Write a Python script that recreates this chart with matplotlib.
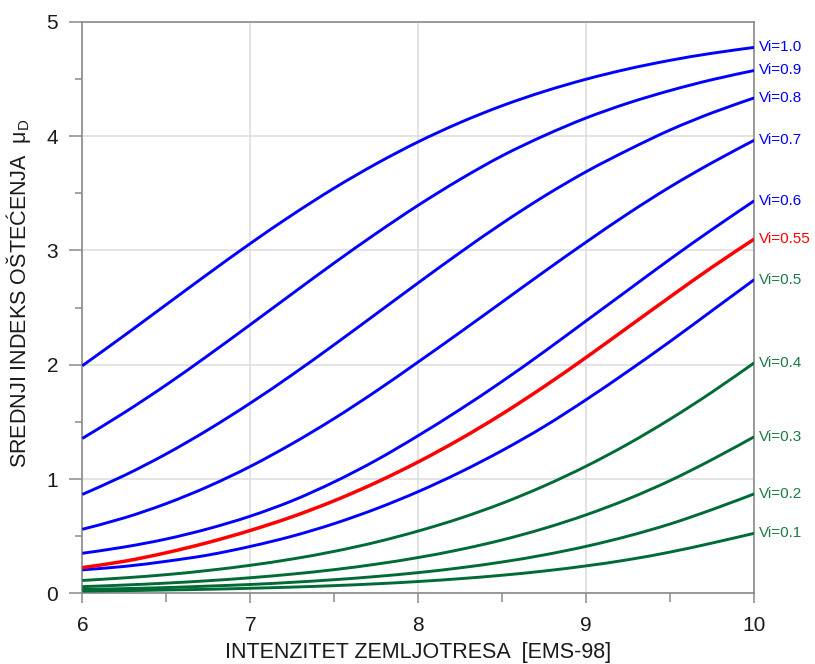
import matplotlib
matplotlib.use("Agg")
import matplotlib.pyplot as plt
from matplotlib.path import Path
from matplotlib.patches import PathPatch
from matplotlib.ticker import MultipleLocator

plt.rcParams["font.family"] = ["Liberation Sans", "DejaVu Sans"]
plt.rcParams["mathtext.fontset"] = "custom"
plt.rcParams["mathtext.rm"] = "Liberation Sans"
plt.rcParams["mathtext.it"] = "Liberation Sans:italic"

# Seismic intensity (EMS-98)
intensity = [6.0, 6.25, 6.5, 6.75, 7.0, 7.25, 7.5, 7.75, 8.0,
             8.25, 8.5, 8.75, 9.0, 9.25, 9.5, 9.75, 10.0]

# Mean damage grade for each vulnerability index Vi
vi_10 = [1.991, 2.256, 2.527, 2.797, 3.061, 3.312, 3.546, 3.759, 3.951,
         4.120, 4.267, 4.392, 4.499, 4.589, 4.664, 4.726, 4.777]
vi_09 = [1.355, 1.581, 1.824, 2.083, 2.351, 2.622, 2.891, 3.150, 3.396,
         3.623, 3.829, 4.005, 4.160, 4.290, 4.400, 4.495, 4.575]
vi_08 = [0.865, 1.031, 1.220, 1.432, 1.664, 1.913, 2.176, 2.446, 2.717,
         2.983, 3.238, 3.475, 3.690, 3.880, 4.055, 4.205, 4.335]
vi_07 = [0.560, 0.660, 0.785, 0.935, 1.110, 1.310, 1.530, 1.770, 2.025,
         2.285, 2.550, 2.815, 3.074, 3.324, 3.557, 3.769, 3.965]
vi_06 = [0.350, 0.405, 0.475, 0.565, 0.675, 0.810, 0.975, 1.165, 1.380,
         1.610, 1.855, 2.115, 2.385, 2.655, 2.925, 3.185, 3.435]
vi_055 = [0.225, 0.280, 0.355, 0.445, 0.550, 0.670, 0.810, 0.970, 1.150,
          1.350, 1.570, 1.810, 2.065, 2.330, 2.595, 2.855, 3.100]
vi_05 = [0.205, 0.235, 0.280, 0.335, 0.410, 0.500, 0.610, 0.740, 0.890,
         1.060, 1.250, 1.460, 1.695, 1.945, 2.205, 2.475, 2.745]
vi_04 = [0.112, 0.135, 0.163, 0.200, 0.245, 0.300, 0.367, 0.448, 0.545,
         0.657, 0.788, 0.940, 1.113, 1.308, 1.525, 1.762, 2.017]
vi_03 = [0.058, 0.072, 0.089, 0.110, 0.136, 0.168, 0.207, 0.255, 0.313,
         0.383, 0.467, 0.568, 0.687, 0.826, 0.987, 1.171, 1.370]
vi_02 = [0.033, 0.041, 0.050, 0.063, 0.077, 0.096, 0.119, 0.147, 0.181,
         0.223, 0.274, 0.336, 0.411, 0.501, 0.607, 0.733, 0.870]
vi_01 = [0.019, 0.023, 0.029, 0.035, 0.044, 0.054, 0.067, 0.083, 0.103,
         0.128, 0.158, 0.195, 0.240, 0.294, 0.361, 0.440, 0.525]

labels = ["Vi=1.0", "Vi=0.9", "Vi=0.8", "Vi=0.7", "Vi=0.6", "Vi=0.55",
          "Vi=0.5", "Vi=0.4", "Vi=0.3", "Vi=0.2", "Vi=0.1"]
curves = [vi_10, vi_09, vi_08, vi_07, vi_06, vi_055,
          vi_05, vi_04, vi_03, vi_02, vi_01]

BLUE = "#0000FF"
RED = "#FF0000"
GREEN = "#006B35"
GREEN_TXT = "#1E7A48"

line_colors = [BLUE] * 5 + [RED, BLUE] + [GREEN] * 4
label_colors = [BLUE] * 5 + [RED] + [GREEN_TXT] * 5


def smooth_path(xs, ys):
    """Smoothed line through the points (Catmull-Rom drawn as Bezier)."""
    verts = [(xs[0], ys[0])]
    codes = [Path.MOVETO]
    n = len(xs)
    for i in range(n - 1):
        x0, y0 = (xs[i - 1], ys[i - 1]) if i > 0 else (xs[i], ys[i])
        x1, y1 = xs[i], ys[i]
        x2, y2 = xs[i + 1], ys[i + 1]
        x3, y3 = (xs[i + 2], ys[i + 2]) if i + 2 < n else (x2, y2)
        c1 = (x1 + (x2 - x0) / 6.0, y1 + (y2 - y0) / 6.0)
        c2 = (x2 - (x3 - x1) / 6.0, y2 - (y3 - y1) / 6.0)
        verts += [c1, c2, (x2, y2)]
        codes += [Path.CURVE4] * 3
    return Path(verts, codes)


fig = plt.figure(figsize=(8.15, 6.64), dpi=100)
ax = fig.add_axes([0.101, 0.1065, 0.8245, 0.8605])

for name, vals, lc, tc in zip(labels, curves, line_colors, label_colors):
    is_red = lc == RED
    ax.add_patch(PathPatch(smooth_path(intensity, vals), facecolor="none",
                           edgecolor=lc, lw=2.5 if is_red else 2.1,
                           zorder=4 if is_red else 3, capstyle="butt"))
    ax.annotate(name, xy=(intensity[-1], vals[-1]), xytext=(3.5, 0),
                textcoords="offset points", ha="left", va="center",
                color=tc, fontsize=11, annotation_clip=False)

ax.set_xlim(6, 10)
ax.set_ylim(0, 5)
ax.xaxis.set_major_locator(MultipleLocator(1))
ax.xaxis.set_minor_locator(MultipleLocator(0.5))
ax.yaxis.set_major_locator(MultipleLocator(1))
ax.yaxis.set_minor_locator(MultipleLocator(0.5))

ax.grid(which="major", color="#dcdcdc", lw=1.1)
ax.set_axisbelow(True)

for sp in ax.spines.values():
    sp.set_color("#8a8a8a")
    sp.set_linewidth(1.2)

ax.tick_params(axis="y", which="major", direction="out", length=9.5,
               width=1.1, color="#8a8a8a", labelsize=15, pad=8,
               labelcolor="#1a1a1a")
ax.tick_params(axis="y", which="minor", direction="out", length=4.8,
               width=1.1, color="#8a8a8a")
ax.tick_params(axis="x", which="major", direction="out", length=7.5,
               width=1.1, color="#8a8a8a", labelsize=15, pad=9,
               labelcolor="#1a1a1a")
ax.tick_params(axis="x", which="minor", direction="out", length=6.5,
               width=1.1, color="#8a8a8a")

ax.set_xlabel("INTENZITET ZEMLJOTRESA  [EMS-98]", fontsize=15.5,
              color="#1a1a1a")
ax.xaxis.set_label_coords(0.5, -0.085)
ax.set_ylabel("SREDNJI INDEKS OŠTEĆENJA  $\\mathregular{\\mu_D}$",
              fontsize=15.5, color="#1a1a1a")
ax.yaxis.set_label_coords(-0.074, 0.525)

fig.savefig("out.png", dpi=100)
